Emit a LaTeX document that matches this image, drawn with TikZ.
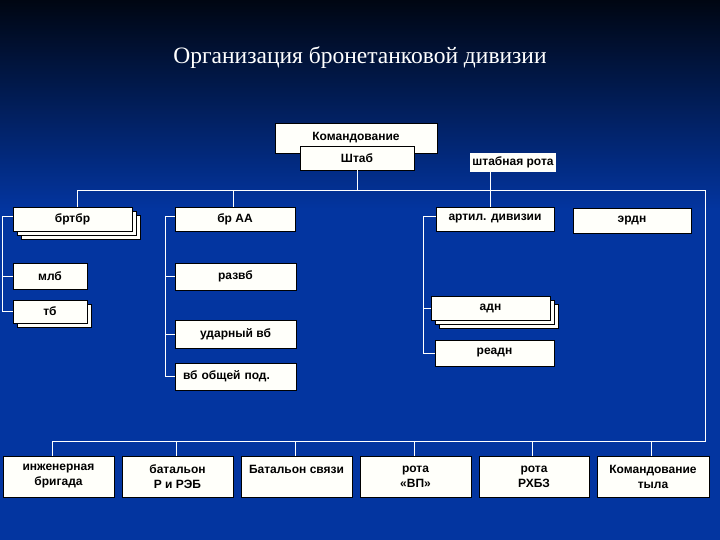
\documentclass[tikz,border=0pt]{standalone}
\usepackage{fontspec}
\setmainfont{Liberation Serif}
\setsansfont{Liberation Sans}
\usetikzlibrary{shadows}
\definecolor{slidetop}{HTML}{000612}
\definecolor{slideblue}{HTML}{0335A0}
\definecolor{boxfill}{HTML}{FFFFFA}

\begin{document}
\begin{tikzpicture}[x=1pt,y=-1pt,
  unit/.style={draw=black,fill=boxfill,line width=0.9pt,inner sep=2pt,
    font=\sffamily\bfseries\fontsize{12}{15}\selectfont,align=center},
  wh/.style 2 args={minimum width=#1pt,minimum height=#2pt},
  stack/.style={double copy shadow={shadow xshift=4pt,shadow yshift=-4pt}},
  single/.style={copy shadow={shadow xshift=4pt,shadow yshift=-4pt}},
  link/.style={draw=white,line width=0.9pt}]
  % background
  \shade[top color=slidetop,bottom color=slideblue] (0,0) rectangle (720,210);
  \fill[slideblue] (0,210) rectangle (720,540);
  \useasboundingbox (0,0) rectangle (720,540);
  \node[text=white,font=\fontsize{23.5}{26}\selectfont] (title) at (360,58)
    {Организация бронетанковой дивизии};

  % command
  \node[unit,wh={162}{30}] (komand) at (356,138) {Командование};
  \node[unit,wh={114}{24}] (shtab) at (357,158) {Штаб};
  \node[unit,wh={86}{19},draw=none] (shtabrota) at (513,162.5) {штабная рота};

  % first row
  \node[unit,stack,wh={119}{24}] (brtbr) at (72.5,219) {бртбр};
  \node[unit,wh={120}{24}] (brAA) at (235,219) {бр АА};
  \node[unit,wh={118}{24}] (artil) at (495,219) {артил. дивизии};
  \node[unit,wh={118}{25}] (erdn) at (632,220.5) {эрдн};

  % battalions
  \node[unit,wh={74}{26}] (mlb) at (50,276) {млб};
  \node[unit,single,wh={74}{23}] (tb) at (50,311.5) {тб};
  \node[unit,wh={121}{27}] (razvb) at (235.5,276.5) {развб};
  \node[unit,wh={121}{28}] (udarvb) at (235.5,334) {ударный вб};
  \node[unit,wh={121}{27},align=left,text width=105pt] (vbop) at (235.5,376.5) {вб общей под.};
  \node[unit,stack,wh={119}{24}] (adn) at (490.5,308) {адн};
  \node[unit,wh={119}{26}] (readn) at (494.5,353) {реадн};

  % bottom row
  \node[unit,wh={111}{41}] (ingbr) at (58.5,476.5) {инженерная\\бригада};
  \node[unit,wh={111}{41}] (batreb) at (177.5,476.5) {батальон\\Р и РЭБ};
  \node[unit,wh={111}{41}] (batsv) at (296.5,476.5) {Батальон связи\\~};
  \node[unit,wh={111}{41}] (rotavp) at (415.5,476.5) {рота\\«ВП»};
  \node[unit,wh={110}{41}] (rotarhbz) at (534,476.5) {рота\\РХБЗ};
  \node[unit,wh={112}{41}] (komtyl) at (653,476.5) {Командование\\тыла};

  % connectors
  \coordinate (busA) at (77,190);
  \coordinate (busB) at (705,190);
  \coordinate (busC) at (705,441);
  \coordinate (busD) at (52,441);
  \draw[link] (busA) -- (busB) -- (busC) -- (busD);
  \draw[link] (shtab.south) -- (shtab.south |- busA);
  \draw[link] ([xshift=-5pt]artil.north) -- ([xshift=-5pt]artil.north |- shtabrota.south);
  \draw[link] ([xshift=4.5pt]brtbr.north) -- ([xshift=4.5pt]brtbr.north |- busA);
  \draw[link] ([xshift=-2pt]brAA.north) -- ([xshift=-2pt]brAA.north |- busA);
  \draw[link] ([yshift=3pt]brtbr.west) -- ++(-10,0) |- (tb.west);
  \draw[link] (mlb.west) -- ++(-10,0);
  \draw[link] ([yshift=3pt]brAA.west) -- ++(-9,0) |- (vbop.west);
  \draw[link] (razvb.west) -- ++(-9,0);
  \draw[link] (udarvb.west) -- ++(-9,0);
  \draw[link] ([yshift=3pt]artil.west) -- ++(-12,0) |- (readn.west);
  \draw[link] (adn.west) -- ++(-7,0);
  \draw[link] ([xshift=-6.5pt]ingbr.north) -- ([xshift=-6.5pt]ingbr.north |- busD);
  \foreach \n in {batreb,batsv,rotavp,rotarhbz,komtyl}
    \draw[link] ([xshift=-1.5pt]\n.north) -- ([xshift=-1.5pt]\n.north |- busD);
\end{tikzpicture}
\end{document}
